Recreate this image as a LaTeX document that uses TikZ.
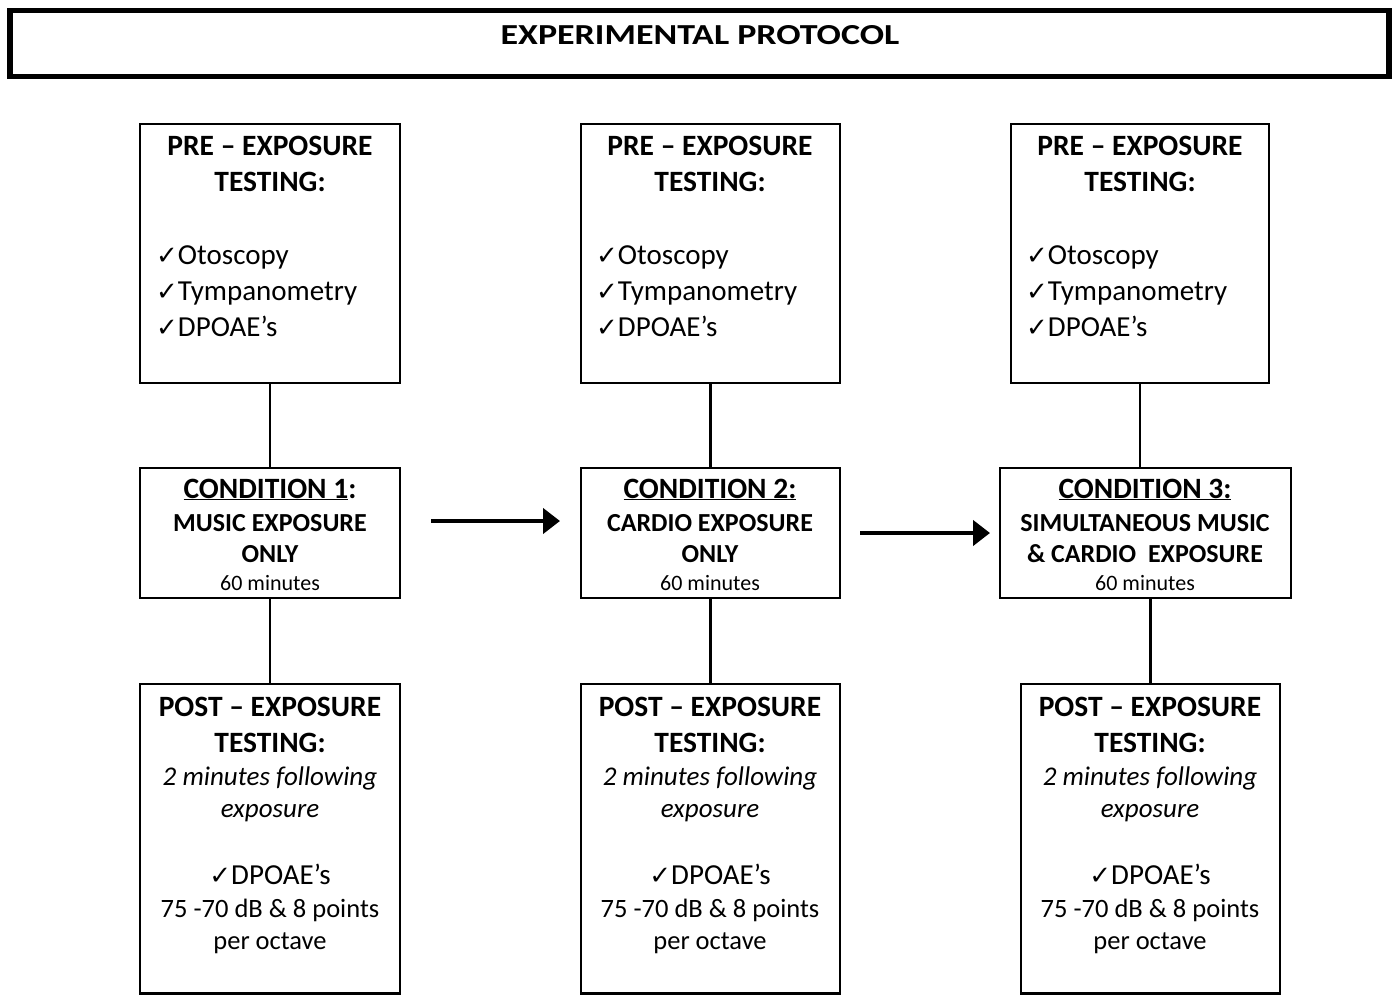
\documentclass[tikz,border=0pt]{standalone}
\usepackage{fontspec}
\setmainfont{Carlito}
\newfontfamily\sym{DejaVu Sans}
\usetikzlibrary{arrows.meta}
\tikzset{
  box/.style={draw, line width=2.6pt, inner sep=0pt, outer sep=0pt, minimum width=259pt},
  titlebox/.style={draw, line width=5.5pt, inner sep=0pt, outer sep=0pt},
  hd/.style={anchor=base, inner sep=0pt, font=\fontsize{29.5}{34}\selectfont\bfseries},
  hdc/.style={anchor=base, inner sep=0pt, font=\fontsize{26}{30}\selectfont\bfseries},
  txt/.style={anchor=base, inner sep=0pt, font=\fontsize{29}{34}\selectfont},
  stx/.style={anchor=base, inner sep=0pt, font=\fontsize{26.5}{31}\selectfont},
  itx/.style={anchor=base, inner sep=0pt, font=\fontsize{27}{32}\selectfont\itshape},
  sml/.style={anchor=base, inner sep=0pt, font=\fontsize{22}{26}\selectfont},
  chk/.style={anchor=base west, inner sep=0pt, font=\fontsize{29}{34}\selectfont},
  conn/.style={line width=2.6pt},
  arr/.style={line width=4.5pt, -{Triangle[length=17pt,width=25pt]}}
}
\newcommand{\ck}{{\sym\fontsize{26}{28}\selectfont ✓}}
\begin{document}
\begin{tikzpicture}[x=1pt,y=-1pt]
\useasboundingbox (0,0) rectangle (1394,996);
% title
\node[titlebox, minimum width=1379pt, minimum height=66pt] (title) at (699.5,43.5) {};
\node[anchor=base, inner sep=0pt, font=\fontsize{29}{34}\selectfont\bfseries] (titletext) at (700,44) {\scalebox{1.24}[1]{EXPERIMENTAL PROTOCOL}};
% pre boxes
\node[box, minimum width=260pt, minimum height=259pt] (pre1) at (270,253.5) {};
\node[box, minimum width=259pt, minimum height=259pt] (pre2) at (710.5,253.5) {};
\node[box, minimum width=258pt, minimum height=259pt] (pre3) at (1140,253.5) {};
% condition boxes
\node[box, minimum width=260pt, minimum height=130pt] (cond1) at (270,533) {};
\node[box, minimum width=259pt, minimum height=130pt] (cond2) at (710.5,533) {};
\node[box, minimum width=291pt, minimum height=130pt] (cond3) at (1145.5,533) {};
% post boxes
\node[box, minimum width=260pt, minimum height=309.5pt] (post1) at (270,838.75) {};
\node[box, minimum width=259pt, minimum height=309.5pt] (post2) at (710.5,838.75) {};
\node[box, minimum width=259pt, minimum height=309.5pt] (post3) at (1150.5,838.75) {};
% pre texts
\foreach \c/\l/\n in {270/156/1, 710/596/2, 1140/1026/3}{
  \node[hd] (preA\n) at (\c,155) {PRE -- EXPOSURE};
  \node[hd] (preB\n) at (\c,191) {TESTING:};
  \node[chk] (preC\n) at (\l,264) {\ck Otoscopy};
  \node[chk] (preD\n) at (\l,300) {\ck Tympanometry};
  \node[chk] (preE\n) at (\l,336) {\ck DPOAE’s};
}
% condition texts
\node[hd] (c1a) at (270,498) {\underline{CONDITION 1}:};
\node[hdc] (c1b) at (270,531) {MUSIC EXPOSURE};
\node[hdc] (c1c) at (270,562) {ONLY};
\node[sml] (c1d) at (270,590) {60 minutes};
\node[hd] (c2a) at (710,498) {\underline{CONDITION 2:}};
\node[hdc] (c2b) at (710,531) {CARDIO EXPOSURE};
\node[hdc] (c2c) at (710,562) {ONLY};
\node[sml] (c2d) at (710,590) {60 minutes};
\node[hd] (c3a) at (1145,498) {\underline{CONDITION 3:}};
\node[hdc] (c3b) at (1145,531) {SIMULTANEOUS MUSIC};
\node[hdc] (c3c) at (1145,562) {\& CARDIO\ \ EXPOSURE};
\node[sml] (c3d) at (1145,590) {60 minutes};
% post texts
\foreach \c/\n in {270/1, 710/2, 1150/3}{
  \node[hd] (poA\n) at (\c,716) {POST -- EXPOSURE};
  \node[hd] (poB\n) at (\c,752) {TESTING:};
  \node[itx] (poC\n) at (\c,785) {2 minutes following};
  \node[itx] (poD\n) at (\c,817) {exposure};
  \node[txt] (poE\n) at (\c,884) {\ck DPOAE’s};
  \node[stx] (poF\n) at (\c,917) {75 -70 dB \& 8 points};
  \node[stx] (poG\n) at (\c,949) {per octave};
}
% connectors
\draw[conn] (pre1.south) -- (cond1.north);
\draw[conn] (cond1.south) -- (post1.north);
\draw[conn] (pre2.south) -- (cond2.north);
\draw[conn] (cond2.south) -- (post2.north);
\draw[conn] (pre3.south) -- (pre3.south |- cond3.north);
\draw[conn] (post3.north |- cond3.south) -- (post3.north);
% arrows
\coordinate (a1s) at (431,521);
\coordinate (a1e) at (560,521);
\coordinate (a2s) at (860,533);
\coordinate (a2e) at (990,533);
\draw[arr] (a1s) -- (a1e);
\draw[arr] (a2s) -- (a2e);
\end{tikzpicture}
\end{document}
